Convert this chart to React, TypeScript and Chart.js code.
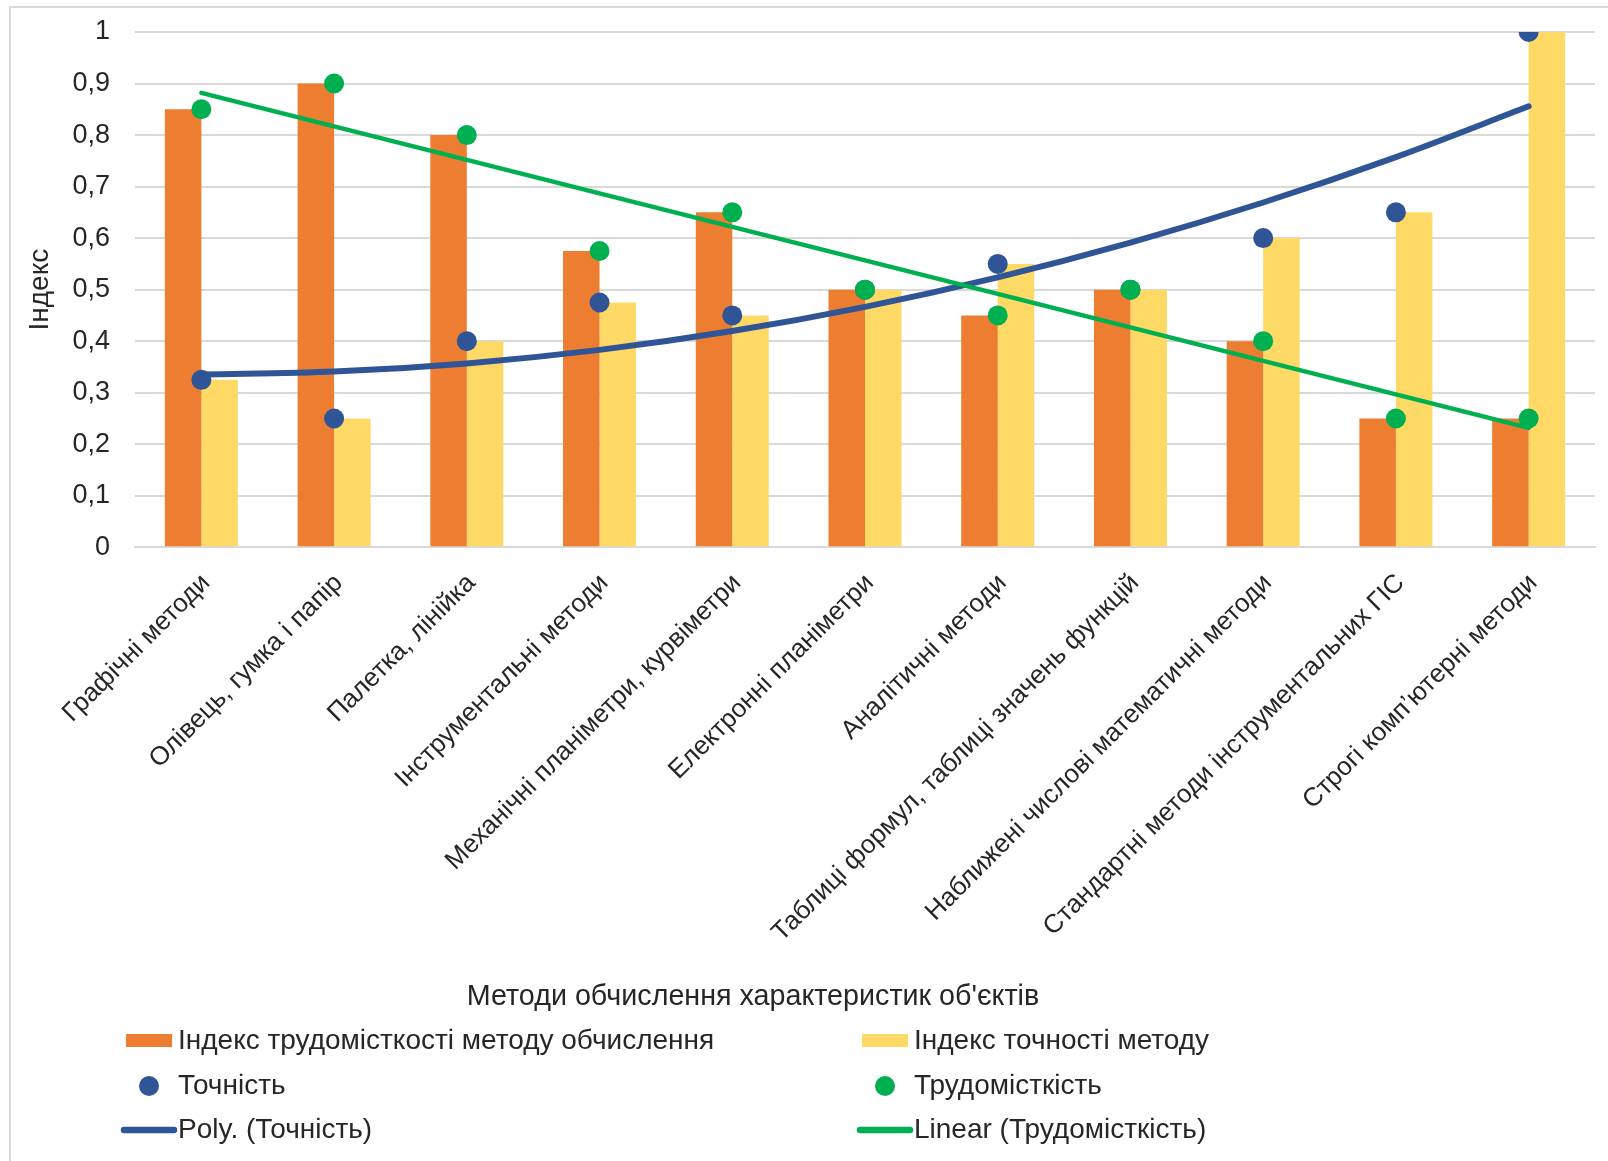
import React, { useEffect, useRef } from 'react';
import { Chart, registerables } from 'chart.js';

Chart.register(...registerables);

// Calculation methods along the x axis
const categories = [
  'Графічні методи',
  'Олівець, гумка і папір',
  'Палетка, лінійка',
  'Інструментальні методи',
  'Механічні планіметри, курвіметри',
  'Електронні планіметри',
  'Аналітичні методи',
  'Таблиці формул, таблиці значень функцій',
  'Наближені числові математичні методи',
  'Стандартні методи інструментальних ГІС',
  'Строгі комп’ютерні методи',
];

// Bar series
const laborIndex = [0.85, 0.9, 0.8, 0.575, 0.65, 0.5, 0.45, 0.5, 0.4, 0.25, 0.25];
const accuracyIndex = [0.325, 0.25, 0.4, 0.475, 0.45, 0.5, 0.55, 0.5, 0.6, 0.65, 1.0];

// Scatter series
const accuracyPoints = [0.325, 0.25, 0.4, 0.475, 0.45, 0.5, 0.55, 0.5, 0.6, 0.65, 1.0];
const laborPoints = [0.85, 0.9, 0.8, 0.575, 0.65, 0.5, 0.45, 0.5, 0.4, 0.25, 0.25];

const yTickLabels = ['0', '0,1', '0,2', '0,3', '0,4', '0,5', '0,6', '0,7', '0,8', '0,9', '1'];

const xTitle = "Методи обчислення характеристик об'єктів";
const yTitle = 'Індекс';

const FONT = '"Liberation Sans", Arial, sans-serif';
const TEXT = '#262626';
const GRID = '#d9d9d9';
const ORANGE = '#ED7D31';
const YELLOW = '#FFD966';
const BLUE = '#2F5597';
const GREEN = '#00B050';

const W = 1597;
const H = 1153;

// Least-squares polynomial fit over x = 1..n, evaluated back at each x
function trend(ys: number[], degree: number): number[] {
  const n = degree + 1;
  const A: number[][] = Array.from({ length: n }, () => new Array(n + 1).fill(0));
  ys.forEach((y, i) => {
    const x = i + 1;
    for (let r = 0; r < n; r++) {
      for (let c = 0; c < n; c++) A[r][c] += Math.pow(x, r + c);
      A[r][n] += y * Math.pow(x, r);
    }
  });
  for (let p = 0; p < n; p++) {
    let best = p;
    for (let r = p + 1; r < n; r++) if (Math.abs(A[r][p]) > Math.abs(A[best][p])) best = r;
    [A[p], A[best]] = [A[best], A[p]];
    for (let r = 0; r < n; r++) {
      if (r === p) continue;
      const f = A[r][p] / A[p][p];
      for (let c = p; c <= n; c++) A[r][c] -= f * A[p][c];
    }
  }
  const coef = A.map((row, i) => row[n] / row[i]);
  return ys.map((_, i) => coef.reduce((s, k, j) => s + k * Math.pow(i + 1, j), 0));
}

const polyTrend = trend(accuracyPoints, 2);
const linearTrend = trend(laborPoints, 1);

type LegendKind = 'bar' | 'dot' | 'line';
const legendItems: { text: string; color: string; kind: LegendKind }[] = [
  { text: 'Індекс трудомісткості методу обчислення', color: ORANGE, kind: 'bar' },
  { text: 'Індекс точності методу', color: YELLOW, kind: 'bar' },
  { text: 'Точність', color: BLUE, kind: 'dot' },
  { text: 'Трудомісткість', color: GREEN, kind: 'dot' },
  { text: 'Poly. (Точність)', color: BLUE, kind: 'line' },
  { text: 'Linear (Трудомісткість)', color: GREEN, kind: 'line' },
];

// Axis title below the rotated labels plus a two-column legend
const bottomPanel = {
  id: 'bottomPanel',
  afterDraw(chart: any) {
    const ctx = chart.ctx as CanvasRenderingContext2D;
    ctx.save();
    ctx.fillStyle = TEXT;
    ctx.textBaseline = 'middle';
    ctx.font = `28.7px ${FONT}`;
    ctx.textAlign = 'center';
    ctx.fillText(xTitle, 742, 989);

    const colX = [115, 851];
    const rowY = [1033, 1078, 1122];
    ctx.font = `28px ${FONT}`;
    ctx.textAlign = 'left';
    legendItems.forEach((item, i) => {
      const x = colX[i % 2];
      const y = rowY[Math.floor(i / 2)];
      ctx.fillStyle = item.color;
      ctx.strokeStyle = item.color;
      if (item.kind === 'bar') {
        ctx.fillRect(x, y - 7, 46, 13);
      } else if (item.kind === 'dot') {
        ctx.beginPath();
        ctx.arc(x + 23, y, 10, 0, Math.PI * 2);
        ctx.fill();
      } else {
        ctx.lineWidth = 6.5;
        ctx.lineCap = 'round';
        ctx.beginPath();
        ctx.moveTo(x - 2, y);
        ctx.lineTo(x + 48, y);
        ctx.stroke();
      }
      ctx.fillStyle = TEXT;
      ctx.fillText(item.text, x + 52, y);
    });
    ctx.restore();
  },
};

export default function App() {
  const ref = useRef<HTMLCanvasElement | null>(null);

  useEffect(() => {
    if (!ref.current) return;
    Chart.defaults.font.family = FONT;
    const chart = new Chart(ref.current, {
      type: 'bar',
      data: {
        labels: categories,
        datasets: [
          {
            type: 'bar',
            label: 'Індекс трудомісткості методу обчислення',
            data: laborIndex,
            backgroundColor: ORANGE,
            categoryPercentage: 0.55,
            barPercentage: 1,
            order: 4,
          },
          {
            type: 'bar',
            label: 'Індекс точності методу',
            data: accuracyIndex,
            backgroundColor: YELLOW,
            categoryPercentage: 0.55,
            barPercentage: 1,
            order: 4,
          },
          {
            type: 'line',
            label: 'Точність',
            data: accuracyPoints,
            showLine: false,
            pointRadius: 10,
            pointBorderWidth: 0,
            pointBackgroundColor: BLUE,
            pointBorderColor: BLUE,
            order: 1,
          },
          {
            type: 'line',
            label: 'Трудомісткість',
            data: laborPoints,
            showLine: false,
            pointRadius: 10,
            pointBorderWidth: 0,
            pointBackgroundColor: GREEN,
            pointBorderColor: GREEN,
            order: 0,
          },
          {
            type: 'line',
            label: 'Poly. (Точність)',
            data: polyTrend,
            borderColor: BLUE,
            borderWidth: 6,
            borderCapStyle: 'round',
            pointRadius: 0,
            cubicInterpolationMode: 'monotone',
            order: 3,
          },
          {
            type: 'line',
            label: 'Linear (Трудомісткість)',
            data: linearTrend,
            borderColor: GREEN,
            borderWidth: 4.5,
            borderCapStyle: 'round',
            pointRadius: 0,
            tension: 0,
            order: 2,
          },
        ] as any,
      },
      options: {
        responsive: false,
        animation: false,
        layout: { padding: { top: 24, right: 13, left: 0, bottom: 0 } },
        plugins: {
          legend: { display: false },
          tooltip: { enabled: false },
        },
        scales: {
          x: {
            offset: true,
            grid: { display: false, drawTicks: false },
            border: { display: true, color: GRID, width: 2 },
            ticks: {
              autoSkip: false,
              minRotation: 45,
              maxRotation: 45,
              padding: 27,
              color: TEXT,
              font: { size: 26, lineHeight: 0.5 },
              showLabelBackdrop: true,
              backdropColor: 'rgba(0,0,0,0)',
              backdropPadding: 0,
            },
            afterFit: (s: any) => {
              s.height = H - 539.3;
              s.paddingLeft = 0;
              s.paddingRight = 0;
            },
          },
          y: {
            min: 0,
            max: 1,
            grid: { color: GRID, lineWidth: 2, drawTicks: false },
            border: { display: false },
            ticks: {
              stepSize: 0.1,
              padding: 25,
              color: TEXT,
              font: { size: 27 },
              callback: (_v: any, i: number) => yTickLabels[i],
            },
            title: {
              display: true,
              text: yTitle,
              color: TEXT,
              font: { size: 28 },
              padding: 12,
            },
            afterFit: (s: any) => {
              s.width = 124;
              s.paddingTop = 0;
              s.paddingBottom = 0;
            },
          },
        },
      } as any,
      plugins: [bottomPanel],
    });
    return () => chart.destroy();
  }, []);

  return (
    <div
      style={{
        position: 'fixed',
        left: 9,
        top: 6,
        width: W,
        height: H,
        borderLeft: `2px solid ${GRID}`,
        borderTop: `2px solid ${GRID}`,
        background: '#fff',
      }}
    >
      <canvas ref={ref} width={W} height={H} style={{ display: 'block', width: W, height: H }} />
    </div>
  );
}
